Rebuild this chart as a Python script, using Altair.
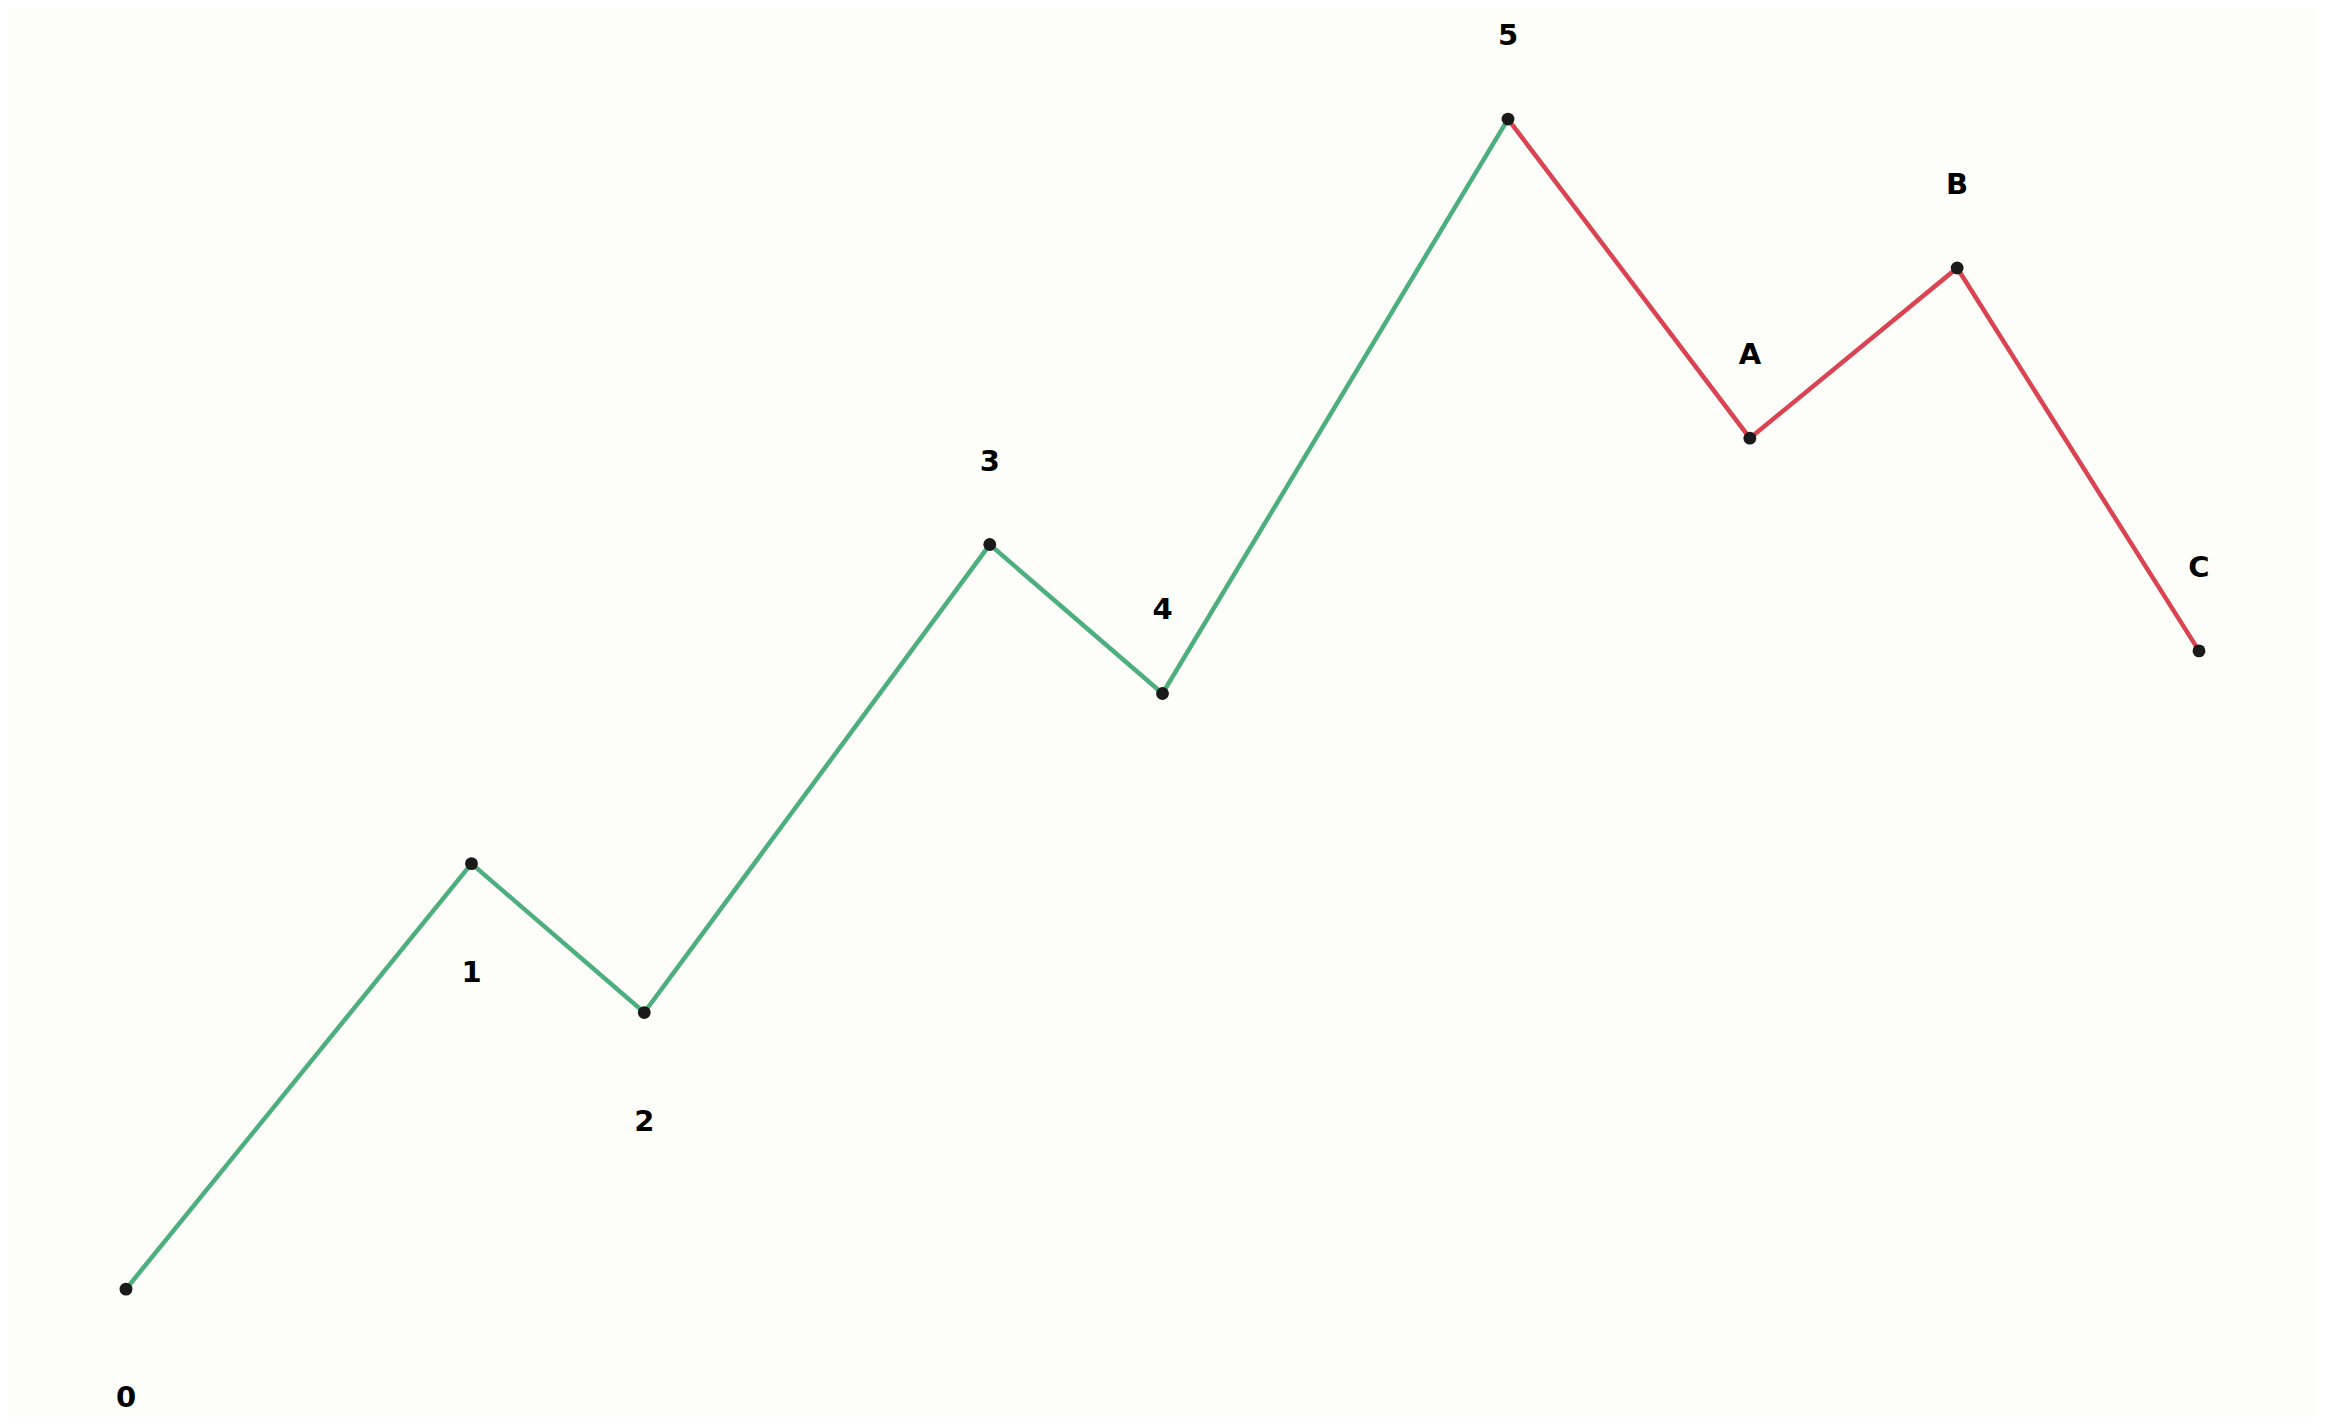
import altair as alt
import pandas as pd

labels = ["0", "1", "2", "3", "4", "5", "A", "B", "C"]
xs = [0, 2, 3, 5, 6, 8, 9.4, 10.6, 12]
ys = [0, 100, 65, 175, 140, 275, 200, 240, 150]
label_pos = ["below", "below", "below", "above", "above", "above", "above", "above", "above"]

impulse_idx = [0, 1, 2, 3, 4, 5]
corrective_idx = [5, 6, 7, 8]

rows = []
for i in impulse_idx:
    rows.append({"x": xs[i], "y": ys[i], "seg": "impulse", "order": i})
for i in corrective_idx:
    rows.append({"x": xs[i], "y": ys[i], "seg": "corrective", "order": i})
lines_df = pd.DataFrame(rows)

pts_df = pd.DataFrame({"x": xs, "y": ys, "label": labels, "pos": label_pos})

BG = "#fdfdf9"
xscale = alt.Scale(domain=[-0.683, 12.683], nice=False, zero=False)
yscale = alt.Scale(domain=[-30.05, 301.1], nice=False, zero=False)

lines = alt.Chart(lines_df).mark_line(strokeWidth=4.5).encode(
    x=alt.X("x:Q", scale=xscale, axis=None),
    y=alt.Y("y:Q", scale=yscale, axis=None),
    color=alt.Color("seg:N", scale=alt.Scale(domain=["impulse", "corrective"],
                                             range=["#4dae7e", "#da4351"]), legend=None),
    detail="seg:N",
    order="order:Q",
)

points = alt.Chart(pts_df).mark_circle(size=165, color="#1a1a1a", opacity=1).encode(
    x=alt.X("x:Q", scale=xscale, axis=None),
    y=alt.Y("y:Q", scale=yscale, axis=None),
)

above = alt.Chart(pts_df).transform_filter(alt.datum.pos == "above").mark_text(
    fontSize=29, fontWeight="bold", font="DejaVu Sans", color="#000000",
    baseline="middle", align="center", dy=-83,
).encode(
    x=alt.X("x:Q", scale=xscale, axis=None),
    y=alt.Y("y:Q", scale=yscale, axis=None),
    text="label:N",
)

below = alt.Chart(pts_df).transform_filter(alt.datum.pos == "below").mark_text(
    fontSize=29, fontWeight="bold", font="DejaVu Sans", color="#000000",
    baseline="middle", align="center", dy=109,
).encode(
    x=alt.X("x:Q", scale=xscale, axis=None),
    y=alt.Y("y:Q", scale=yscale, axis=None),
    text="label:N",
)

chart = alt.layer(lines, points, above, below).properties(
    width=2309, height=1409, background=BG, padding=0,
    autosize=alt.AutoSizeParams(type="fit", contains="padding"),
).configure_view(stroke=None, fill=BG)

chart.save("out.html", embed_options={"renderer": "svg", "actions": False})
